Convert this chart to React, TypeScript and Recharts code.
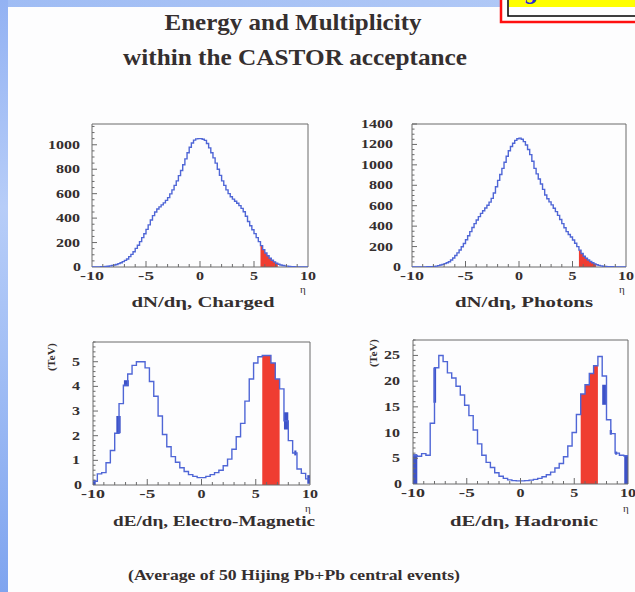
import React from 'react'
import { ComposedChart, Line, Area, XAxis, YAxis, ReferenceArea } from 'recharts'

const W = 635
const H = 592
const YW = 40
const XH = 24

const BLUE = '#4f66d6'
const BLOB = '#3d52c8'
const RED = '#ef3d31'
const FRAME = '#6a6a6a'
const INK = '#352f2f'
const SERIF = '"Liberation Serif", "DejaVu Serif", serif'

// eta range of every histogram; bin width = range / number of bins
const etaMin = -10
const etaMax = 10
const castorRange = [5.6, 7.2]

// dN/deta, charged (100 bins of 0.2)
const chargedBins = [
  0, 0, 0, 1, 2, 3, 4, 6, 9, 12,
  16, 21, 28, 35, 44, 54, 66, 85, 103, 125,
  152, 178, 208, 240, 272, 308, 345, 385, 420, 450,
  475, 492, 508, 525, 545, 568, 598, 631, 668, 705,
  748, 790, 836, 885, 935, 980, 1015, 1038, 1048, 1050,
  1050, 1045, 1036, 1010, 975, 935, 893, 850, 800, 750,
  705, 668, 631, 600, 575, 555, 538, 522, 502, 480,
  452, 415, 372, 338, 305, 273, 240, 208, 175, 142,
  115, 92, 71, 55, 42, 31, 23, 16, 12, 9,
  7, 5, 3, 2, 1, 1, 0, 0, 0, 0,
]

// dN/deta, photons (100 bins of 0.2)
const photonBins = [
  0, 0, 0, 0, 1, 1, 1, 2, 3, 4,
  6, 9, 13, 19, 26, 33, 42, 52, 68, 88,
  112, 138, 166, 198, 230, 267, 306, 346, 386, 425,
  460, 493, 525, 550, 578, 605, 635, 672, 725, 785,
  848, 905, 966, 1025, 1085, 1138, 1180, 1211, 1240, 1256,
  1262, 1250, 1227, 1195, 1150, 1100, 1035, 966, 912, 862,
  812, 760, 705, 668, 638, 608, 575, 542, 505, 465,
  425, 385, 346, 318, 294, 265, 232, 199, 165, 132,
  105, 86, 69, 54, 41, 31, 22, 16, 11, 7,
  5, 4, 2, 2, 1, 1, 0, 0, 0, 0,
]

// dE/deta, electro-magnetic in TeV (50 bins of 0.4)
const emBins = [
  0.15, 0.45, 0.5, 0.9, 1.4, 2.1, 3.3, 4.05, 4.5, 4.85,
  5.0, 5.0, 4.75, 4.2, 3.6, 2.8, 2.05, 1.55, 1.15, 0.92,
  0.7, 0.55, 0.42, 0.35, 0.3, 0.3, 0.35, 0.42, 0.5, 0.6,
  0.78, 1.05, 1.45, 1.96, 2.5, 3.4, 4.3, 4.95, 5.2, 5.25,
  5.25, 4.95, 4.3, 3.9, 2.6, 1.8, 1.3, 0.65, 0.47, 0.25,
]

// dE/deta, hadronic in TeV (50 bins of 0.4)
const hadBins = [
  5.5, 5.4, 5.9, 5.6, 11.8, 22.6, 25.0, 23.8, 21.6, 20.6,
  19.0, 17.3, 15.3, 13.3, 10.5, 7.8, 5.6, 4.2, 3.2, 2.2,
  1.5, 1.1, 0.8, 0.65, 0.6, 0.6, 0.65, 0.75, 0.9, 1.1,
  1.4, 1.8, 2.3, 3.1, 4.0, 5.3, 7.4, 10.0, 13.5, 17.5,
  19.3, 21.5, 23.0, 24.8, 21.0, 12.5, 9.8, 6.0, 5.6, 5.5,
]

// heavy vertical strokes in the plots: [eta from, eta to, low, high]
const emBlobs = [
  [-10, -9.75, 0, 0.2],
  [-7.85, -7.45, 2.1, 2.8],
  [-7.15, -6.7, 4.0, 4.25],
  [7.6, 8.0, 2.25, 2.95],
  [8.55, 8.75, 1.2, 1.4],
  [9.75, 10, 0.05, 0.4],
]
const hadBlobs = [
  [-10, -9.6, 0, 5.8],
  [-8.1, -7.85, 15.8, 22.6],
  [7.6, 7.95, 15.4, 19.3],
  [8.3, 8.5, 9.6, 10.5],
  [8.8, 9.0, 5.7, 6.3],
  [9.65, 10, 0, 5.5],
]

const xMajor = [-10, -5, 0, 5, 10]
const chargedTicks = [0, 200, 400, 600, 800, 1000]
const photonTicks = [0, 200, 400, 600, 800, 1000, 1200, 1400]
const emTicks = [0, 1, 2, 3, 4, 5]
const hadTicks = [0, 5, 10, 15, 20, 25]

const r2 = (v: number) => Math.round(v * 100) / 100

function steps(max: number, step: number) {
  const out: number[] = []
  for (let v = 0; v <= max + 1e-9; v += step) out.push(r2(v))
  return out
}

// one row per bin edge, stepAfter holds the bin value up to the next edge
function histRows(bins: number[]) {
  const bw = (etaMax - etaMin) / bins.length
  return Array.from({ length: bins.length + 1 }, (_, i) => ({
    x: r2(etaMin + i * bw),
    v: bins[Math.min(i, bins.length - 1)],
  }))
}

function XTick(props: any) {
  const { x, y, payload } = props
  const v = payload.value
  const major = xMajor.includes(v)
  const label = String(v)
  return (
    <g>
      {v > -10 && v < 10 && (
        <line x1={x} y1={y} x2={x} y2={y - (major ? 6 : 3)} stroke={FRAME} strokeWidth={1} />
      )}
      {major && (
        <text x={x} y={y + 13} textAnchor="middle" fontFamily={SERIF} fontWeight="bold" fontSize={12}
          fill={INK} textLength={label.length * 8} lengthAdjust="spacingAndGlyphs">
          {label}
        </text>
      )}
    </g>
  )
}

function makeYTick(majors: number[], gap: number) {
  return (props: any) => {
    const { x, y, payload } = props
    const v = payload.value
    const major = majors.some((m) => Math.abs(m - v) < 1e-6)
    const label = String(v)
    return (
      <g>
        {v > 0 && <line x1={x} y1={y} x2={x + (major ? 5 : 2.5)} y2={y} stroke={FRAME} strokeWidth={1} />}
        {major && (
          <text x={x - (v === 0 ? 11 : gap)} y={y + 4} textAnchor="end" fontFamily={SERIF} fontWeight="bold"
            fontSize={12} fill={INK} textLength={label.length * 8} lengthAdjust="spacingAndGlyphs">
            {label}
          </text>
        )}
      </g>
    )
  }
}

interface PanelProps {
  frame: { l: number; t: number; r: number; b: number }
  bins: number[]
  yMax: number
  yTicks: number[]
  yStep: number
  gap: number
  blobs?: number[][]
}

function Panel({ frame, bins, yMax, yTicks, yStep, gap, blobs = [] }: PanelProps) {
  const rows = histRows(bins)
  const redRows = rows.filter((d) => d.x >= castorRange[0] - 1e-6 && d.x <= castorRange[1] + 1e-6)
  const margin = { left: frame.l - YW, top: frame.t, right: W - frame.r, bottom: H - frame.b - XH }
  return (
    <div style={{ position: 'absolute', left: 0, top: 0 }}>
      <ComposedChart width={W} height={H} margin={margin} data={rows}>
        <XAxis type="number" dataKey="x" domain={[etaMin, etaMax]} allowDataOverflow
          ticks={steps(20, 1).map((v) => v - 10)} interval={0} tickSize={0} tickMargin={0}
          axisLine={false} tickLine={false} height={XH} tick={XTick} />
        <YAxis type="number" domain={[0, yMax]} allowDataOverflow ticks={steps(yMax, yStep)} interval={0}
          tickSize={0} tickMargin={0} axisLine={false} tickLine={false} width={YW} tick={makeYTick(yTicks, gap)} />
        <Line type="stepAfter" dataKey="v" stroke={BLUE} strokeWidth={1.4} dot={false} isAnimationActive={false} />
        <Area data={redRows} type="stepAfter" dataKey="v" stroke="none" fill={RED} fillOpacity={1}
          isAnimationActive={false} />
        {blobs.map((b, i) => (
          <Area key={i} type="linear" dataKey="r" stroke="none" fill={BLOB} fillOpacity={1} isAnimationActive={false}
            data={[{ x: b[0], r: [b[2], b[3]] }, { x: b[1], r: [b[2], b[3]] }]} />
        ))}
        <ReferenceArea x1={etaMin} x2={etaMax} y1={0} y2={yMax} fill="none" stroke={FRAME} strokeWidth={1} />
      </ComposedChart>
    </div>
  )
}

const txt = { fontFamily: SERIF, fontWeight: 'bold' as const, fill: INK }

export default function App() {
  return (
    <div style={{ position: 'absolute', left: 0, top: 0, width: W, height: H, overflow: 'hidden' }}>
      <svg width={W} height={H} style={{ position: 'absolute', left: 0, top: 0 }}>
        <defs>
          <linearGradient id="edge" x1="0" y1="0" x2="0" y2="1">
            <stop offset="0" stopColor="#93b2f3" />
            <stop offset="0.35" stopColor="#b7cdf8" />
            <stop offset="0.6" stopColor="#a3bff5" />
            <stop offset="1" stopColor="#7fa4ef" />
          </linearGradient>
          <linearGradient id="topEdge" x1="0" y1="0" x2="1" y2="0">
            <stop offset="0" stopColor="#9fbcf4" />
            <stop offset="1" stopColor="#b4cbf7" />
          </linearGradient>
        </defs>
        <rect x={0} y={0} width={W} height={H} fill="#fdfdfe" />
        <rect x={0} y={0} width={W} height={7} fill="url(#topEdge)" />
        <rect x={0} y={0} width={8} height={H} fill="url(#edge)" />

        <rect x={501} y={-4} width={140} height={26} fill="#ffffff" stroke="#ff1010" strokeWidth={2.5} />
        <rect x={508} y={-4} width={135} height={20} fill="#ffffff" stroke="#000000" strokeWidth={1.5} />
        <rect x={509} y={0} width={130} height={7} fill="#ffff00" />
        <text x={526} y={-1} fontFamily={SERIF} fontWeight="bold" fontStyle="italic" fontSize={26} fill="#2b2bd6">g</text>

        <text x={293} y={30} textAnchor="middle" fontSize={23} textLength={257} lengthAdjust="spacingAndGlyphs" {...txt}>
          Energy and Multiplicity
        </text>
        <text x={295} y={65} textAnchor="middle" fontSize={23} textLength={344} lengthAdjust="spacingAndGlyphs" {...txt}>
          within the CASTOR acceptance
        </text>

        <text x={203} y={307} textAnchor="middle" fontSize={15} textLength={143} lengthAdjust="spacingAndGlyphs" {...txt}>
          dN/dη, Charged
        </text>
        <text x={524} y={307} textAnchor="middle" fontSize={15} textLength={138} lengthAdjust="spacingAndGlyphs" {...txt}>
          dN/dη, Photons
        </text>
        <text x={214} y={526} textAnchor="middle" fontSize={15} textLength={202} lengthAdjust="spacingAndGlyphs" {...txt}>
          dE/dη, Electro-Magnetic
        </text>
        <text x={524} y={526} textAnchor="middle" fontSize={15} textLength={148} lengthAdjust="spacingAndGlyphs" {...txt}>
          dE/dη, Hadronic
        </text>

        <text x={303} y={293} textAnchor="middle" fontSize={11} {...txt} fontWeight="normal">η</text>
        <text x={622} y={293} textAnchor="middle" fontSize={11} {...txt} fontWeight="normal">η</text>
        <text x={308} y={512} textAnchor="middle" fontSize={11} {...txt} fontWeight="normal">η</text>
        <text x={626} y={512} textAnchor="middle" fontSize={11} {...txt} fontWeight="normal">η</text>

        <text x={0} y={0} transform="translate(55 357) rotate(-90)" textAnchor="middle" fontSize={11}
          textLength={28} lengthAdjust="spacingAndGlyphs" {...txt}>(TeV)</text>
        <text x={0} y={0} transform="translate(377 353) rotate(-90)" textAnchor="middle" fontSize={11}
          textLength={28} lengthAdjust="spacingAndGlyphs" {...txt}>(TeV)</text>

        <text x={294} y={580} textAnchor="middle" fontSize={15} textLength={332} lengthAdjust="spacingAndGlyphs" {...txt}>
          (Average of 50 Hijing Pb+Pb central events)
        </text>
      </svg>

      <Panel frame={{ l: 92, t: 124, r: 308, b: 267 }} bins={chargedBins} yMax={1170} yTicks={chargedTicks} yStep={50} gap={12} />
      <Panel frame={{ l: 412, t: 124, r: 626, b: 267 }} bins={photonBins} yMax={1400} yTicks={photonTicks} yStep={50} gap={19} />
      <Panel frame={{ l: 93, t: 342, r: 310, b: 485 }} bins={emBins} yMax={5.8} yTicks={emTicks} yStep={0.2} gap={13}
        blobs={emBlobs} />
      <Panel frame={{ l: 413, t: 340, r: 628, b: 484 }} bins={hadBins} yMax={28} yTicks={hadTicks} yStep={1} gap={13}
        blobs={hadBlobs} />
    </div>
  )
}
